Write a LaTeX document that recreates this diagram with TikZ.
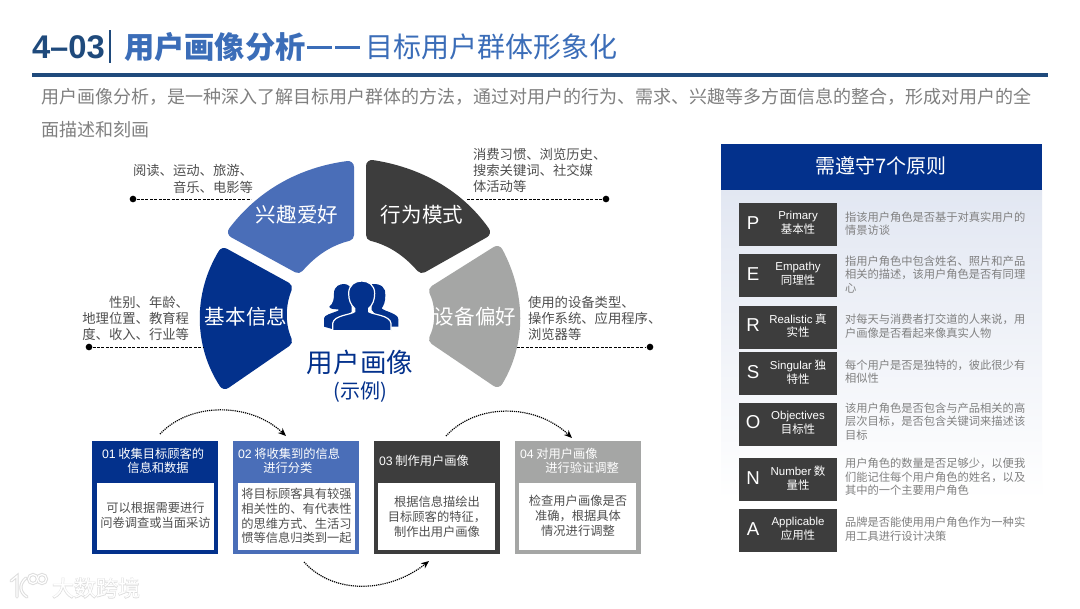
\documentclass[tikz,border=0pt]{standalone}
\usepackage{fontspec}
\setmainfont{Noto Sans CJK SC}
\newfontfamily\lf{Liberation Sans}
\newfontfamily\wmhalo[FakeBold=4]{Noto Sans CJK SC}
\usetikzlibrary{arrows.meta,calc}
\definecolor{navy}{HTML}{03318C}
\definecolor{midblue}{HTML}{4A6EB8}
\definecolor{darkgr}{HTML}{3D3D3D}
\definecolor{lightgr}{HTML}{A5A6A5}
\definecolor{titleblue}{HTML}{3B6DB8}
\definecolor{rulecol}{HTML}{1F4A7C}
\definecolor{descgr}{HTML}{808080}
\definecolor{txtgr}{HTML}{4F4F4F}
\definecolor{paneltop}{HTML}{E2E7F2}
\definecolor{halo}{HTML}{DDDDDD}
\tikzset{
  txt/.style={inner sep=0pt,outer sep=0pt,align=left},
  lobe/.style={line width=9pt,line join=round,fill=#1,draw=#1},
  lobelabel/.style={txt,text=white,font=\fontsize{15.4}{18}\selectfont},
  note/.style={txt,text=txtgr,font=\fontsize{10}{12.2}\selectfont},
  leader/.style={black,line width=.6pt,dash pattern=on 2.2pt off 1.1pt},
  enddot/.style={circle,fill=black,inner sep=0pt,minimum size=5pt},
  flow/.style={black,line width=.9pt,dash pattern=on .9pt off .7pt,-{Stealth[length=6pt,width=5pt,fill=black]}},
  stepbg/.style={anchor=north west,inner sep=0pt,minimum width=94.5pt,minimum height=84.75pt},
  stepin/.style={anchor=north west,fill=white,inner sep=0pt,minimum width=87.75pt,minimum height=50.25pt},
  stephead/.style={txt,text=white,font=\fontsize{9.2}{10.6}\selectfont},
  stepbody/.style={txt,text=txtgr,font=\fontsize{9.2}{11.1}\selectfont},
  rowbox/.style={anchor=north west,fill=darkgr,inner sep=0pt,minimum width=73.5pt,minimum height=32.25pt},
  rowletter/.style={txt,text=white,font=\lf\fontsize{14}{16}\selectfont},
  rowlabel/.style={txt,align=center,text=white,font=\fontsize{8.6}{10.2}\selectfont},
  rowdesc/.style={txt,text=descgr,font=\fontsize{8.45}{10.2}\selectfont},
  wmunder/.style={txt,text=halo,font=\wmhalo\fontsize{16.5}{18}\selectfont},
  wmover/.style={txt,text=white,font=\fontsize{16.5}{18}\selectfont},
  wmlinea/.style={halo,line width=2.4pt,line cap=round},
  wmlineb/.style={white,line width=.9pt,line cap=round},
}
\newcommand\princ[5]{%
  \node[rowbox] (box#1) at (739,#2) {};
  \node[rowletter,anchor=center] (let#1) at (753,#2+20) {#1};
  \node[rowlabel,anchor=center] (lab#1) at (798,#2+20) {#3};
  \node[rowdesc,anchor=west] (desc#1) at (845,#4) {#5};
}
\begin{document}
\begin{tikzpicture}[x=.75pt,y=-.75pt]
\fill[white] (0,0) rectangle (1080,608);
\useasboundingbox (0,0) rectangle (1080,608);

% title
\node[txt,anchor=west,text=rulecol,font=\lf\bfseries\fontsize{24.6}{28}\selectfont] (t1) at (32,47) {4–03};
\fill[rulecol] (108.5,30) rectangle (110.5,63);
\node[txt,anchor=west,text=titleblue,font=\bfseries\fontsize{22.7}{26}\selectfont] (t2) at (124,47) {用户画像分析};
\node[txt,anchor=west,text=titleblue,font=\fontsize{21}{26}\selectfont] (t3) at (365,47) {目标用户群体形象化};
\fill[titleblue] (307,46.3) rectangle (332,48.8);
\fill[titleblue] (335,46.3) rectangle (360,48.8);
\fill[rulecol] (32,73) rectangle (1048,76.5);
\node[txt,anchor=west,text=descgr,font=\fontsize{13.5}{24.7}\selectfont] (intro) at (41,113.5)
  {用户画像分析，是一种深入了解目标用户群体的方法，通过对用户的行为、需求、兴趣等多方面信息的整合，形成对用户的全\\面描述和刻画};

% lobes
\path[lobe=midblue] (234,232) .. controls (262,195) and (302,173) .. (348,167) -- (348,235)
   .. controls (328,240) and (312,251) .. (298,267) -- cycle;
\path[lobe=darkgr] (372,166) .. controls (418,173) and (458,195) .. (484,232) -- (422,267)
   .. controls (408,251) and (392,240) .. (372,235) -- cycle;
\path[lobe=navy] (224,254) .. controls (199,295) and (200,345) .. (225,383) -- (286,341)
   .. controls (279,325) and (279,305) .. (286,288) -- cycle;
\path[lobe=lightgr] (497,252) .. controls (520,295) and (520,343) .. (497,381) -- (435,339)
   .. controls (442,325) and (442,305) .. (435,291) -- cycle;
\node[lobelabel,anchor=center] (l1) at (297,215) {兴趣爱好};
\node[lobelabel,anchor=center] (l2) at (422,215) {行为模式};
\node[lobelabel,anchor=center] (l3) at (246,317) {基本信息};
\node[lobelabel,anchor=center] (l4) at (475,317) {设备偏好};

% leaders
\coordinate (a1) at (251,199); \coordinate (a2) at (467,199);
\coordinate (a3) at (203,347); \coordinate (a4) at (517,347);
\node[enddot] (d1) at (133,199) {}; \node[enddot] (d2) at (606,199) {};
\node[enddot] (d3) at (89,347) {}; \node[enddot] (d4) at (650,347) {};
\draw[leader] (d1) -- (a1); \draw[leader] (a2) -- (d2);
\draw[leader] (d3) -- (a3); \draw[leader] (a4) -- (d4);

\node[note,anchor=east,align=right] (n1) at (253,179) {阅读、运动、旅游、\\音乐、电影等};
\node[note,anchor=west] (n2) at (473,170.5) {消费习惯、浏览历史、\\搜索关键词、社交媒\\体活动等};
\node[note,anchor=east,align=right] (n3) at (189,318.5) {性别、年龄、\\地理位置、教育程\\度、收入、行业等};
\node[note,anchor=west] (n4) at (528,318.5) {使用的设备类型、\\操作系统、应用程序、\\浏览器等};

% icon
\begin{scope}[shift={(310,270)},x=.25pt,y=-.25pt]
  \fill[navy] (72,70) .. controls (72,48) and (90,42) .. (102,42) .. controls (112,42) and (125,48) .. (125,70)
     -- (125,125) -- (70,178) -- (42,170) -- (42,145) .. controls (42,135) and (65,130) .. (85,122)
     -- (85,118) .. controls (70,118) and (58,116) .. (58,110) .. controls (70,100) and (72,88) .. (72,70) -- cycle;
  \fill[navy] (185,42) .. controls (215,40) and (228,55) .. (226,75) .. controls (226,95) and (222,105) .. (215,115)
     .. controls (225,125) and (265,130) .. (265,148) -- (265,170) -- (230,170) -- (185,120) -- cycle;
  \fill[navy,draw=white,line width=.9pt] (116,70) .. controls (116,45) and (135,33) .. (155,33)
     .. controls (175,33) and (194,45) .. (194,70) .. controls (194,90) and (188,105) .. (176,115)
     -- (176,125) .. controls (190,135) and (240,135) .. (243,160) -- (243,182) -- (68,182) -- (68,160)
     .. controls (72,135) and (122,135) .. (134,125) -- (134,115) .. controls (122,105) and (116,90) .. (116,70) -- cycle;
\end{scope}
\node[txt,anchor=center,text=navy,font=\fontsize{19.9}{24}\selectfont] (c1) at (360,362) {用户画像};
\node[txt,anchor=center,text=navy,font=\fontsize{15}{18}\selectfont] (c2) at (360,392) {(示例)};

% steps
\node[stepbg,fill=navy] (s1) at (92,441) {};
\node[stepbg,fill=midblue] (s2) at (233,441) {};
\node[stepbg,fill=darkgr] (s3) at (373.5,441) {};
\node[stepbg,fill=lightgr] (s4) at (514.5,441) {};
\node[stepin] (i1) at (97,483) {};
\node[stepin] (i2) at (237.5,483) {};
\node[stepin] (i3) at (378,483) {};
\node[stepin] (i4) at (519,483) {};
\node[stephead,anchor=west] (h1) at (102,461) {{\lf 01} 收集目标顾客的\\\hspace{19pt}信息和数据};
\node[stephead,anchor=west] (h2) at (238,461) {{\lf 02} 将收集到的信息\\\hspace{19pt}进行分类};
\node[stephead,anchor=west] (h3) at (379,461) {{\lf 03} 制作用户画像};
\node[stephead,anchor=west] (h4) at (520,461) {{\lf 04} 对用户画像\\\hspace{19pt}进行验证调整};
\node[stepbody,align=center,anchor=center] (b1) at (155.5,515.5) {可以根据需要进行\\问卷调查或当面采访};
\node[stepbody,align=center,anchor=center] (b2) at (296.5,516) {将目标顾客具有较强\\相关性的、有代表性\\的思维方式、生活习\\惯等信息归类到一起};
\node[stepbody,align=center,anchor=center] (b3) at (437,516.5) {根据信息描绘出\\目标顾客的特征，\\制作出用户画像};
\node[stepbody,align=center,anchor=center] (b4) at (578,516) {检查用户画像是否\\准确，根据具体\\情况进行调整};

\coordinate (f1a) at (160,434); \coordinate (f1b) at (286,436);
\coordinate (f2a) at (446,436); \coordinate (f2b) at (572,438);
\coordinate (f3a) at (304,562); \coordinate (f3b) at (429,561);
\draw[flow] (f1a) .. controls (190,402) and (250,402) .. (f1b);
\draw[flow] (f2a) .. controls (476,403) and (535,403) .. (f2b);
\draw[flow] (f3a) .. controls (335,596) and (390,592) .. (f3b);

% principles panel
\shade[top color=paneltop,bottom color=white] (721,189) rectangle (1042,500);
\fill[navy] (721,144) rectangle (1042,190);
\node[txt,anchor=center,text=white,font=\fontsize{15}{18}\selectfont] (hd) at (881,166) {需遵守7个原则};
\princ{P}{203}{{\lf Primary}\\基本性}{223.5}{指该用户角色是否基于对真实用户的\\情景访谈}
\princ{E}{254}{{\lf Empathy}\\同理性}{274.5}{指用户角色中包含姓名、照片和产品\\相关的描述，该用户角色是否有同理\\心}
\princ{R}{305.5}{{\lf Realistic} 真\\实性}{326}{对每天与消费者打交道的人来说，用\\户画像是否看起来像真实人物}
\princ{S}{352}{{\lf Singular} 独\\特性}{371.5}{每个用户是否是独特的，彼此很少有\\相似性}
\princ{O}{402.5}{{\lf Objectives}\\目标性}{421.5}{该用户角色是否包含与产品相关的高\\层次目标，是否包含关键词来描述该\\目标}
\princ{N}{458}{{\lf Number} 数\\量性}{477}{用户角色的数量是否足够少，以便我\\们能记住每个用户角色的姓名，以及\\其中的一个主要用户角色}
\princ{A}{509}{{\lf Applicable}\\应用性}{529}{品牌是否能使用用户角色作为一种实\\用工具进行设计决策}

% watermark
\node[wmunder,anchor=west] (wmback) at (52,588) {大数跨境};
\node[wmover,anchor=west] (wmtext) at (52,588) {大数跨境};
\foreach \st in {wmlinea,wmlineb}{
  \draw[\st] (11,581) -- (17,576) -- (17,597);
  \draw[\st] (26,578) .. controls (19,584) and (19,592) .. (27,597);
  \draw[\st] (33,579) circle[radius=4.5];
  \draw[\st] (42,579) circle[radius=4.5];
}
\end{tikzpicture}
\end{document}
